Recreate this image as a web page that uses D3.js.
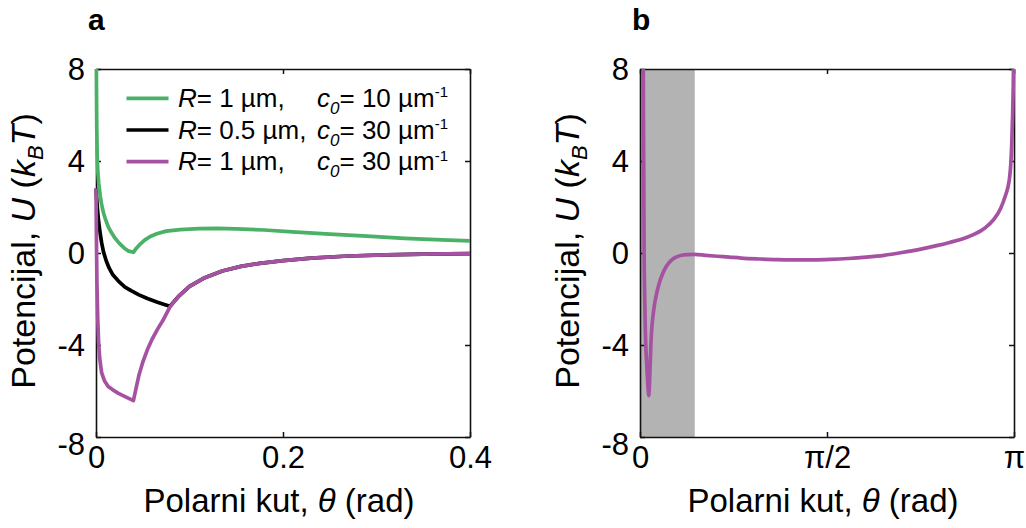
<!DOCTYPE html>
<html><head><meta charset="utf-8">
<script src="https://cdn.jsdelivr.net/npm/d3@7"></script>
<style>
body{margin:0;background:#fff}
svg{display:block}
text{font-family:"Liberation Sans",Arial,Helvetica,sans-serif;fill:#000}
</style>
</head><body>
<svg id="chart" width="1026" height="528"></svg>
<script>
// ---------- data (panel a) ----------
const thetaGreen = [0, 0.0003, 0.0008, 0.0013, 0.002, 0.003, 0.0045, 0.006, 0.008, 0.010, 0.013, 0.016, 0.020, 0.025, 0.030, 0.035, 0.040, 0.043, 0.047, 0.052, 0.058, 0.065, 0.075, 0.09, 0.11, 0.13, 0.15, 0.18, 0.21, 0.25, 0.29, 0.33, 0.37, 0.40];
const uGreen     = [14, 8.5, 5.5, 4.2, 3.5, 3.0, 2.5, 2.1, 1.75, 1.48, 1.15, 0.92, 0.66, 0.42, 0.22, 0.08, 0.03, 0.2, 0.38, 0.56, 0.72, 0.84, 0.95, 1.02, 1.06, 1.07, 1.05, 1.0, 0.92, 0.82, 0.73, 0.64, 0.57, 0.53];

const thetaBlack = [0, 0.001, 0.002, 0.003, 0.0045, 0.006, 0.008, 0.011, 0.014, 0.018, 0.024, 0.031, 0.038, 0.046, 0.055, 0.065, 0.073, 0.079, 0.088, 0.1, 0.115, 0.135, 0.155, 0.175, 0.2, 0.23, 0.27, 0.31, 0.35, 0.4];
const uBlack     = [2.8, 2.2, 1.7, 1.3, 0.85, 0.45, 0.05, -0.35, -0.65, -0.95, -1.22, -1.48, -1.65, -1.82, -1.98, -2.13, -2.24, -2.32, -1.9, -1.45, -1.1, -0.78, -0.58, -0.45, -0.33, -0.22, -0.13, -0.08, -0.05, -0.03];

const thetaPurple = [0, 0.0005, 0.001, 0.0018, 0.0028, 0.004, 0.006, 0.009, 0.013, 0.018, 0.024, 0.030, 0.035, 0.040, 0.043, 0.046, 0.050, 0.055, 0.060, 0.066, 0.072, 0.079, 0.088, 0.1, 0.115, 0.135, 0.155, 0.175, 0.2, 0.23, 0.27, 0.31, 0.35, 0.4];
const uPurple     = [2.8, 0.5, -1.3, -2.8, -3.9, -4.6, -5.2, -5.55, -5.8, -5.95, -6.1, -6.22, -6.32, -6.42, -5.85, -5.3, -4.75, -4.2, -3.75, -3.3, -2.9, -2.35, -1.9, -1.45, -1.1, -0.78, -0.58, -0.45, -0.33, -0.22, -0.13, -0.08, -0.05, -0.03];

// ---------- data (panel b) ----------
const thetaB = [0.026, 0.029, 0.032, 0.034, 0.038, 0.044, 0.050, 0.056, 0.062, 0.068, 0.073, 0.078, 0.083, 0.088, 0.093, 0.1, 0.11, 0.12, 0.14, 0.162, 0.19, 0.219, 0.26, 0.303, 0.35, 0.40, 0.46, 0.55, 0.65, 0.75, 0.85, 1.0, 1.15, 1.3, 1.45, 1.6, 1.75, 1.9, 2.05, 2.2, 2.35, 2.5, 2.6, 2.7, 2.8, 2.9, 2.97, 3.03, 3.07, 3.09, 3.105, 3.115, 3.123, 3.13, 3.135, 3.14];
const uB     = [10, 6, 3, 0.5, -1.5, -3.2, -4.2, -4.8, -5.4, -5.9, -6.2, -5.9, -5.2, -4.5, -3.8, -3.2, -2.7, -2.3, -1.75, -1.3, -0.9, -0.6, -0.33, -0.18, -0.1, -0.07, -0.06, -0.1, -0.14, -0.18, -0.22, -0.26, -0.29, -0.3, -0.3, -0.28, -0.24, -0.18, -0.1, 0.02, 0.16, 0.33, 0.46, 0.6, 0.8, 1.1, 1.45, 1.95, 2.5, 2.85, 3.3, 3.9, 4.8, 6.0, 7.2, 9];
const shadeB = [0, 0.46];

// ---------- ticks ----------
const yTicks = [-8, -4, 0, 4, 8];
const yTickLabels = ["-8", "-4", "0", "4", "8"];
const xTicksA = [0, 0.2, 0.4];
const xTickLabelsA = ["0", "0.2", "0.4"];
const xTicksB = [0, Math.PI / 2, Math.PI];
const xTickLabelsB = ["0", "π/2", "π"];

// ---------- legend ----------
const legendR = ["1 µm,", "0.5 µm,", "1 µm,"];
const legendC0 = ["10", "30", "30"];

const colGreen = "#4ab166", colBlack = "#000000", colPurple = "#a652a2";

const svg = d3.select("#chart");
const TOP = 69, BOT = 437, W = 374;
const y = d3.scaleLinear().domain([-8, 8]).range([BOT, TOP]);

function zip(a, b) { return a.map((v, i) => [v, b[i]]); }

function panel(ox, xDomain, xTicks, xLabels, series, shade, letter, idx, curve) {
  const x = d3.scaleLinear().domain(xDomain).range([ox, ox + W]);
  const g = svg.append("g");

  const cid = "clip" + idx;
  svg.append("clipPath").attr("id", cid).append("rect")
    .attr("x", ox - 2).attr("y", TOP).attr("width", W + 4).attr("height", BOT - TOP);

  if (shade) {
    g.append("rect").attr("x", x(shade[0])).attr("y", TOP)
      .attr("width", x(shade[1]) - x(shade[0])).attr("height", BOT - TOP)
      .attr("fill", "#b3b3b3");
  }

  const axL = d3.axisLeft(y).tickValues(yTicks).tickSize(-5).tickSizeOuter(0).tickPadding(11)
    .tickFormat((d, i) => yTickLabels[i]);
  const axR = d3.axisRight(y).tickValues(yTicks).tickSize(-5).tickSizeOuter(0).tickFormat("");
  const axB = d3.axisBottom(x).tickValues(xTicks).tickSize(-5).tickSizeOuter(0).tickPadding(9)
    .tickFormat((d, i) => xLabels[i]);
  const axT = d3.axisTop(x).tickValues(xTicks).tickSize(-5).tickSizeOuter(0).tickFormat("");

  const gl = g.append("g").attr("transform", `translate(${ox},0)`).call(axL);
  const gr = g.append("g").attr("transform", `translate(${ox + W},0)`).call(axR);
  const gb = g.append("g").attr("transform", `translate(0,${BOT})`).call(axB);
  const gt = g.append("g").attr("transform", `translate(0,${TOP})`).call(axT);
  [gl, gr, gb, gt].forEach(a => {
    a.attr("font-family", null).attr("font-size", null);
    a.selectAll("path.domain").attr("stroke", "#111").attr("stroke-width", 1.6);
    a.selectAll(".tick line").attr("stroke", "#111").attr("stroke-width", 1.5);
  });
  gl.selectAll("text").style("font-size", "31px").attr("dy", d => d === -8 ? "0.55em" : "0.34em");
  gb.selectAll("text").style("font-size", "31px");

  const line = d3.line().x(d => x(d[0])).y(d => y(d[1])).curve(curve);
  const cg = svg.append("g").attr("clip-path", `url(#${cid})`);
  series.forEach(s => {
    cg.append("path").attr("d", line(s.pts)).attr("fill", "none")
      .attr("stroke", s.color).attr("stroke-width", 3.7)
      .attr("stroke-linejoin", "round").attr("stroke-linecap", "butt");
  });

  svg.append("text").attr("x", ox - 8).attr("y", 29.5).attr("font-weight", "bold")
    .style("font-size", "30px").text(letter);

  const xt = svg.append("text").attr("x", ox + W / 2 - 4).attr("y", 512)
    .attr("text-anchor", "middle").style("font-size", "33px");
  xt.append("tspan").text("Polarni kut, ");
  xt.append("tspan").attr("font-style", "italic").text("θ");
  xt.append("tspan").text(" (rad)");

  const yt = svg.append("text")
    .attr("transform", `translate(${ox - 61},251) rotate(-90)`)
    .attr("text-anchor", "middle").style("font-size", "34px");
  yt.append("tspan").text("Potencijal, ");
  yt.append("tspan").attr("font-style", "italic").text("U");
  yt.append("tspan").text(" (");
  yt.append("tspan").attr("font-style", "italic").text("k");
  yt.append("tspan").attr("font-style", "italic").attr("dy", 8).style("font-size", "22px").text("B");
  yt.append("tspan").attr("font-style", "italic").attr("dy", -8).text("T");
  yt.append("tspan").text(")");
  return x;
}

panel(96, [0, 0.4], xTicksA, xTickLabelsA, [
  { pts: zip(thetaBlack, uBlack), color: colBlack },
  { pts: zip(thetaGreen, uGreen), color: colGreen },
  { pts: zip(thetaPurple, uPurple), color: colPurple }
], null, "a", 0, d3.curveLinear);

panel(640, [0, Math.PI], xTicksB, xTickLabelsB, [
  { pts: zip(thetaB, uB), color: colPurple }
], shadeB, "b", 1, d3.curveMonotoneX);

// legend
const legColors = [colGreen, colBlack, colPurple];
const legY = [98.3, 130, 161.7];
legColors.forEach((c, i) => {
  svg.append("line").attr("x1", 126.5).attr("x2", 168.5).attr("y1", legY[i]).attr("y2", legY[i])
    .attr("stroke", c).attr("stroke-width", 3.7);
  const t1 = svg.append("text").attr("x", 178).attr("y", legY[i] + 8.5).style("font-size", "26px");
  t1.append("tspan").attr("font-style", "italic").text("R");
  t1.append("tspan").text("= " + legendR[i]);
  const t2 = svg.append("text").attr("x", 317).attr("y", legY[i] + 8.5).style("font-size", "26px");
  t2.append("tspan").attr("font-style", "italic").text("c");
  t2.append("tspan").attr("font-style", "italic").attr("dy", 7).style("font-size", "17px").text("0");
  t2.append("tspan").attr("dy", -7).text("= " + legendC0[i] + " µm");
  t2.append("tspan").attr("dy", -9.5).style("font-size", "15px").text("-1");
});
</script>
</body></html>
